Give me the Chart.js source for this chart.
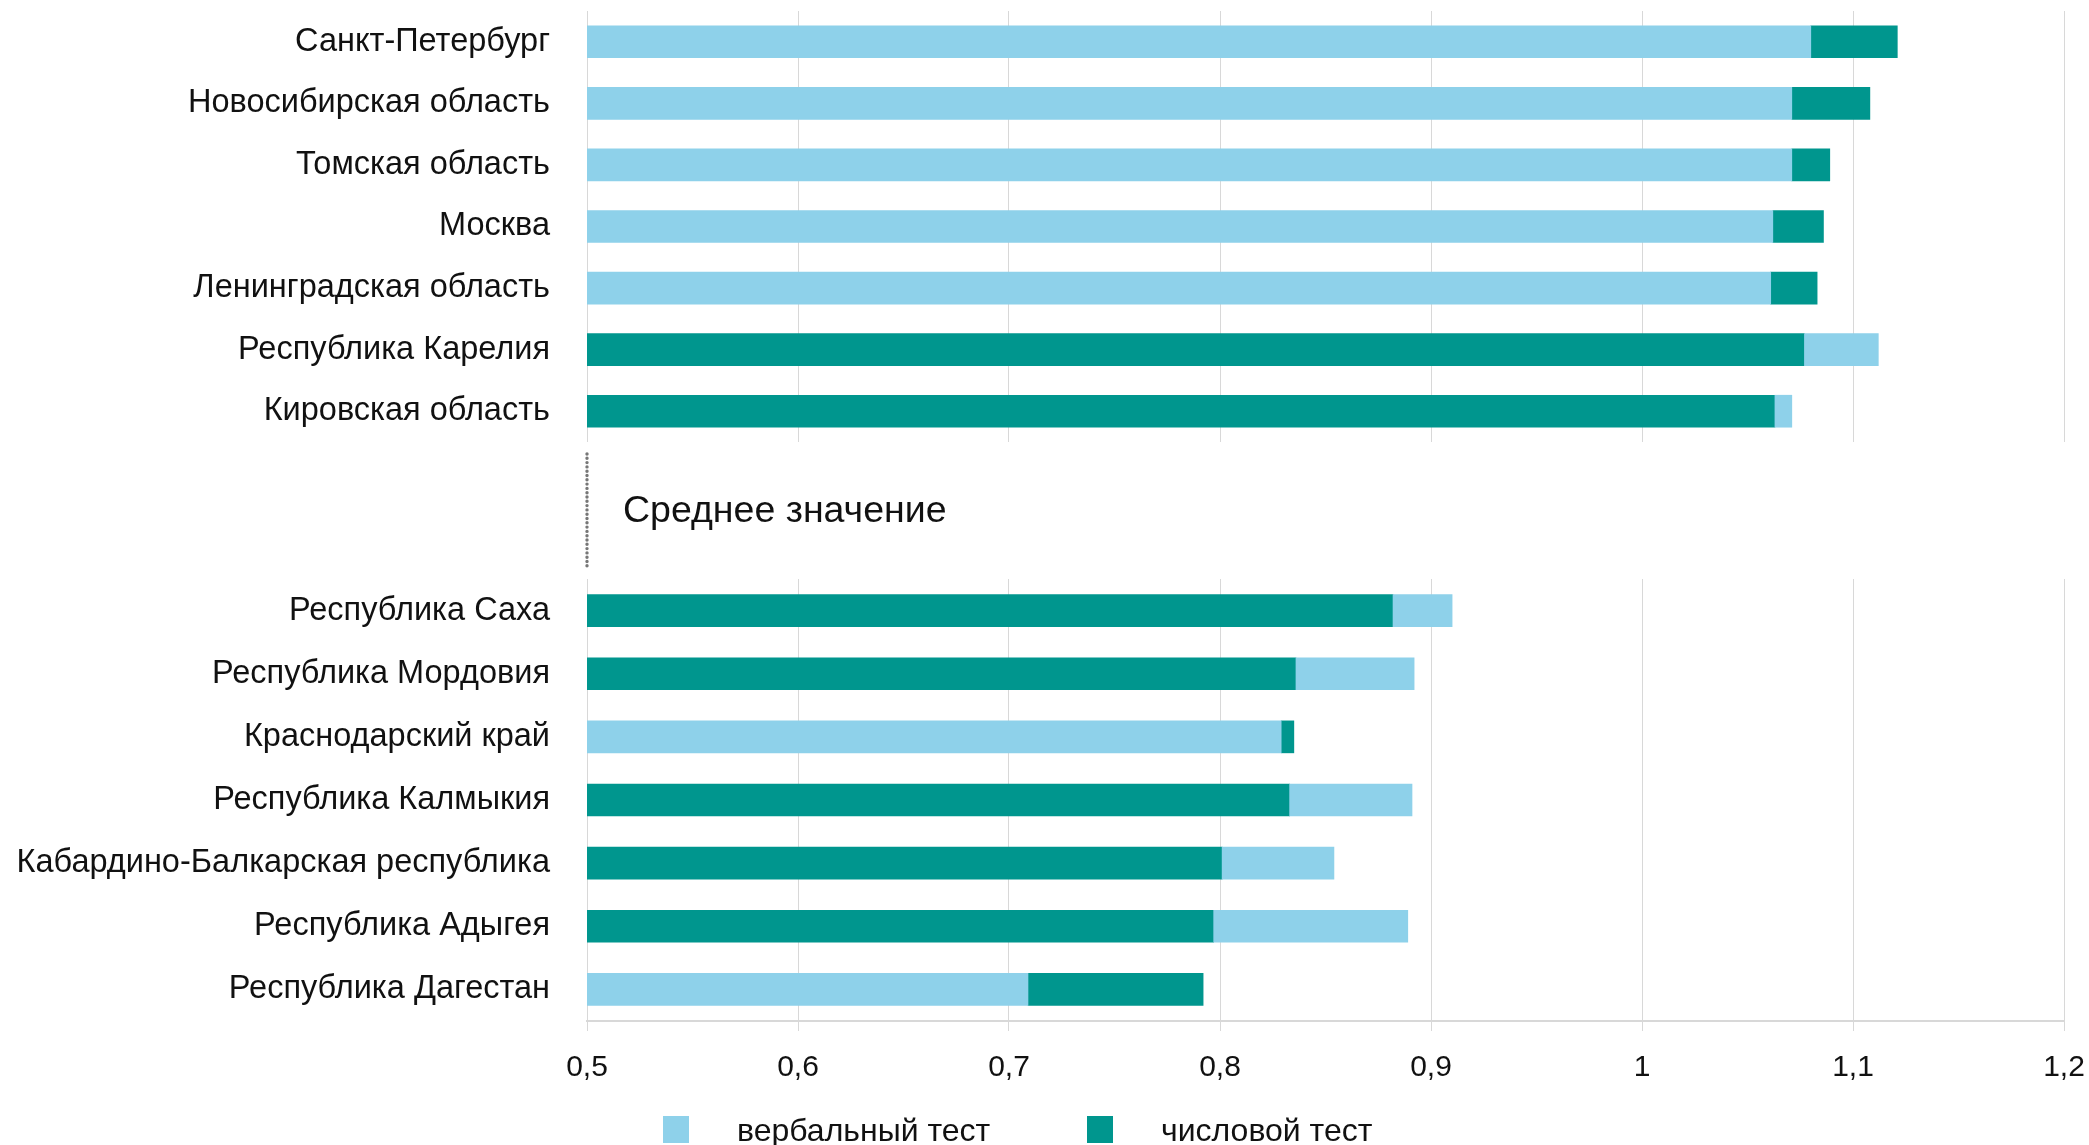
<!DOCTYPE html>
<html>
<head>
<meta charset="utf-8">
<script src="https://cdn.jsdelivr.net/npm/chart.js@4.4.1/dist/chart.umd.min.js"></script>
<style>
  html, body { margin: 0; padding: 0; background: #fff; }
  body { width: 2089px; height: 1145px; position: relative; overflow: hidden; font-family: "Liberation Sans", Arial, sans-serif; }
  #topWrap { position: absolute; left: 0; top: 0; width: 2089px; height: 442px; }
  #botWrap { position: absolute; left: 0; top: 445px; width: 2089px; height: 700px; }
  .legend { position: absolute; top: 1116px; left: 0; width: 2089px; height: 29px; }
  .lg-box { position: absolute; top: 0; width: 26px; height: 27px; }
  .lg-text { position: absolute; top: -4px; font-size: 32px; line-height: 36px; color: #111; white-space: nowrap; }
</style>
</head>
<body>
<div id="topWrap"><canvas id="topChart"></canvas></div>
<div id="botWrap"><canvas id="botChart"></canvas></div>
<div class="legend">
  <div class="lg-box" id="lgBox1" style="left:663px"></div><div class="lg-text" id="lgText1" style="left:737px"></div>
  <div class="lg-box" id="lgBox2" style="left:1087px"></div><div class="lg-text" id="lgText2" style="left:1161px"></div>
</div>
<script>
// ---- data ----
const topRegions = ["Санкт-Петербург", "Новосибирская область", "Томская область", "Москва", "Ленинградская область", "Республика Карелия", "Кировская область"];
const topVerbal  = [1.080, 1.071, 1.071, 1.062, 1.061, 1.112, 1.071];
const topNumeric = [1.121, 1.108, 1.089, 1.086, 1.083, 1.077, 1.063];

const botRegions = ["Республика Саха", "Республика Мордовия", "Краснодарский край", "Республика Калмыкия", "Кабардино-Балкарская республика", "Республика Адыгея", "Республика Дагестан"];
const botVerbal  = [0.910, 0.892, 0.829, 0.891, 0.854, 0.889, 0.709];
const botNumeric = [0.882, 0.836, 0.835, 0.833, 0.801, 0.797, 0.792];

const seriesNames = ["вербальный тест", "числовой тест"];
const xTicks = [0.5, 0.6, 0.7, 0.8, 0.9, 1, 1.1, 1.2];
const middleLabel = "Среднее значение";

// ---- styles ----
const COLOR_VERBAL = "#8ED1EA";
const COLOR_NUMERIC = "#00968E";
const GRID = "#D8D8D8";
const FONT = "'Liberation Sans', Arial, sans-serif";
const XMIN = 0.5, XMAX = 1.2;

document.getElementById("lgBox1").style.background = COLOR_VERBAL;
document.getElementById("lgBox2").style.background = COLOR_NUMERIC;
document.getElementById("lgText1").textContent = seriesNames[0];
document.getElementById("lgText2").textContent = seriesNames[1];

// Shorter value drawn from the axis start, longer value continues from where the shorter ends
function segs(a, b) { return a.map((v, i) => v <= b[i] ? [XMIN, v] : [b[i], v]); }

function makeChart(id, labels, verbal, numeric, isBottom) {
  const plugins = [];
  if (isBottom) {
    plugins.push({
      id: "middleNote",
      afterDraw(chart) {
        const ctx = chart.ctx;
        const x0 = chart.scales.x.getPixelForValue(XMIN);
        ctx.save();
        ctx.strokeStyle = "#777";
        ctx.lineWidth = 3.4;
        ctx.lineCap = "round";
        ctx.setLineDash([0, 4.3]);
        ctx.beginPath();
        ctx.moveTo(x0, 9);
        ctx.lineTo(x0, 121);
        ctx.stroke();
        ctx.setLineDash([]);
        ctx.fillStyle = "#111";
        ctx.font = "37.5px " + FONT;
        ctx.textBaseline = "middle";
        ctx.textAlign = "left";
        ctx.fillText(middleLabel, x0 + 36, 67);
        ctx.restore();
      }
    });
  }
  return new Chart(document.getElementById(id), {
    type: "bar",
    data: {
      labels: labels,
      datasets: [
        { label: seriesNames[0], data: segs(verbal, numeric), backgroundColor: COLOR_VERBAL, grouped: false, barThickness: 32, borderSkipped: false },
        { label: seriesNames[1], data: segs(numeric, verbal), backgroundColor: COLOR_NUMERIC, grouped: false, barThickness: 32, borderSkipped: false }
      ]
    },
    options: {
      indexAxis: "y",
      responsive: true,
      maintainAspectRatio: false,
      animation: false,
      layout: { padding: isBottom ? { top: 134, right: 25, bottom: 40, left: 0 } : { top: 11, right: 25, bottom: 0, left: 0 } },
      plugins: { legend: { display: false }, tooltip: { enabled: false } },
      scales: {
        x: {
          type: "linear",
          min: XMIN, max: XMAX,
          afterBuildTicks(scale) { scale.ticks = xTicks.map(v => ({ value: v })); },
          afterFit(scale) { scale.paddingLeft = 0; scale.paddingRight = 0; },
          grid: { color: GRID, lineWidth: 1, drawTicks: isBottom, tickLength: 10 },
          border: { display: isBottom, color: GRID, width: 2 },
          ticks: {
            display: isBottom,
            padding: 19,
            color: "#111",
            font: { family: FONT, size: 30 },
            callback: v => String(v).replace(".", ",")
          }
        },
        y: {
          grid: { display: false, drawTicks: false },
          border: { display: false },
          afterFit(scale) { scale.width = 587; scale.paddingTop = 0; scale.paddingBottom = 0; },
          ticks: { padding: 37, color: "#111", font: { family: FONT, size: 32.5 } }
        }
      }
    },
    plugins: plugins
  });
}

makeChart("topChart", topRegions, topVerbal, topNumeric, false);
makeChart("botChart", botRegions, botVerbal, botNumeric, true);
</script>
</body>
</html>
